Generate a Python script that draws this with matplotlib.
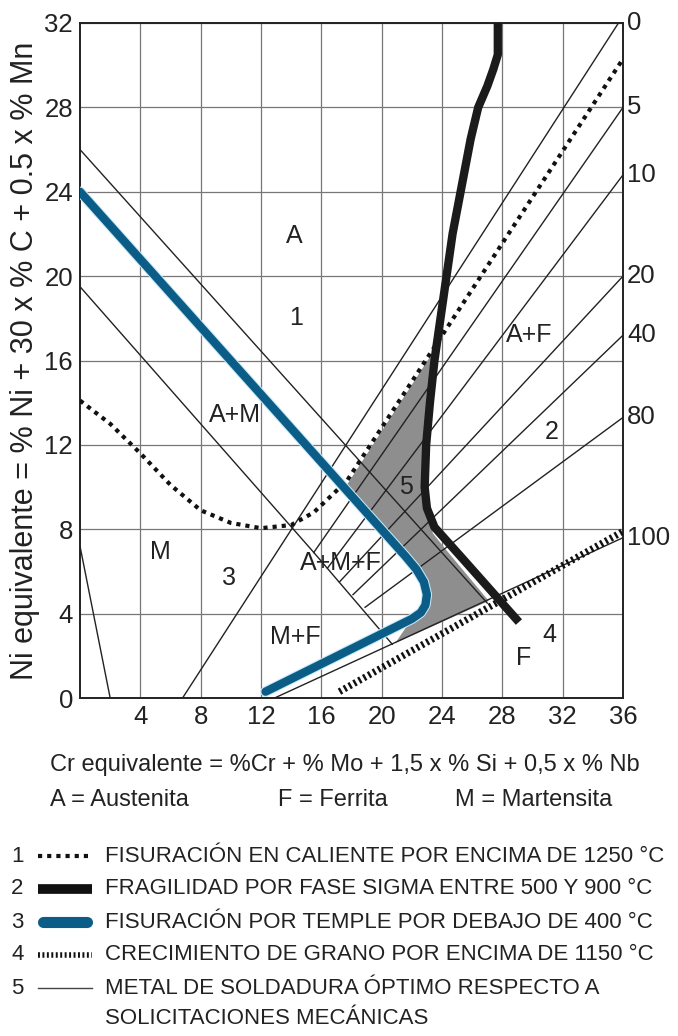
import matplotlib
matplotlib.use("Agg")
import matplotlib.pyplot as plt
from matplotlib.lines import Line2D

plt.rcParams['font.family'] = ['Liberation Sans', 'DejaVu Sans']

# ---- data (Cr equivalente, Ni equivalente) ----
# phase boundary lines
austenite_x = [0, 27.0]
austenite_y = [26.0, 4.5]
martensite_x = [0, 15.5]
martensite_y = [19.5, 6.9]
mleft_x = [0, 2.0]
mleft_y = [7.2, 0]
amf_x = [15.5, 20.7]
amf_y = [6.9, 2.55]

# ferrite % lines: start point and end point
ferrite_pct = [0, 5, 10, 20, 40, 80, 100]
ferrite_x0 = [6.8, 15.5, 16.4, 17.2, 18.1, 18.9, 12.9]
ferrite_y0 = [0.0, 6.9, 6.15, 5.5, 4.9, 4.3, 0.0]
ferrite_x1 = [35.7, 36, 36, 36, 36, 36, 36]
ferrite_y1 = [32.0, 28.0, 24.8, 20.0, 17.2, 13.3, 7.6]

# 1 - hot cracking (dotted)
hot_x = [0, 2, 4, 6, 8, 10, 12, 14, 15.5, 17.7, 36]
hot_y = [14.1, 13.0, 11.6, 10.1, 8.9, 8.3, 8.05, 8.2, 8.8, 10.3, 30.3]
# 2 - sigma phase embrittlement
sigma_x = [27.7, 27.7, 27.4, 27.0, 26.4, 25.9, 25.5, 25.1, 24.7, 24.3, 23.9,
           23.5, 23.2, 22.95, 22.85, 23.0, 23.5, 24.5, 25.5, 29.1]
sigma_y = [32.0, 30.5, 29.8, 29.0, 28.0, 26.5, 25.0, 23.5, 22.0, 20.0, 18.0,
           16.0, 14.0, 12.0, 10.0, 9.0, 8.1, 7.3, 6.5, 3.6]
# 3 - quench cracking
quench_x = [0, 21.6, 22.3, 22.8, 23.0, 22.9, 22.6, 22.0, 12.3]
quench_y = [24.0, 6.7, 6.1, 5.5, 4.9, 4.4, 4.05, 3.75, 0.3]
# 4 - grain growth
grain_x = [17.2, 36]
grain_y = [0.3, 7.9]
# 5 - optimum weld metal region
opt_x = [23.5, 17.6, 21.6, 22.3, 22.8, 23.0, 22.9, 22.6, 22.0, 20.9, 27.1,
         24.3, 23.4, 23.0, 22.9, 23.2, 23.5]
opt_y = [16.5, 10.0, 6.7, 6.1, 5.5, 4.9, 4.4, 4.05, 3.75, 2.6, 4.6,
         7.0, 7.8, 9.0, 12.0, 14.0, 16.5]

regions = ['A', '1', 'A+M', 'M', '3', 'A+M+F', 'M+F', '5', 'A+F', '2', '4', 'F']
region_x = [14.2, 14.3, 10.3, 5.3, 9.9, 17.3, 14.3, 21.6, 29.8, 31.3, 31.1, 29.4]
region_y = [21.9, 18.0, 13.4, 6.9, 5.7, 6.4, 2.9, 10.0, 17.2, 12.6, 3.0, 1.9]

legend_items = [
    'FISURACIÓN EN CALIENTE POR ENCIMA DE 1250 °C',
    'FRAGILIDAD POR FASE SIGMA ENTRE 500 Y 900 °C',
    'FISURACIÓN POR TEMPLE POR DEBAJO DE 400 °C',
    'CRECIMIENTO DE GRANO POR ENCIMA DE 1150 °C',
    'METAL DE SOLDADURA ÓPTIMO RESPECTO A',
]
legend_extra = 'SOLICITACIONES MECÁNICAS'

blue = '#0b5d87'
ink = '#222222'
W, H = 678, 1036
fig = plt.figure(figsize=(W / 100, H / 100), dpi=100)
ax = fig.add_axes([80 / W, 1 - 698 / H, 543 / W, 675 / H])
ax.set_xlim(0, 36)
ax.set_ylim(0, 32)
ax.set_xticks(range(4, 37, 4))
ax.set_yticks(range(0, 33, 4))
ax.tick_params(length=0, labelsize=18.5, colors=ink, pad=5)
ax.grid(True, color='#777777', lw=0.9)
for s in ax.spines.values():
    s.set_linewidth(1.4)
    s.set_color(ink)
ax.set_ylabel('Ni equivalente = % Ni + 30 x % C + 0.5 x % Mn', fontsize=22,
              color=ink, labelpad=3)

thin = dict(color=ink, lw=1.0, zorder=3)
ax.fill(opt_x, opt_y, color='#8e8e8e', lw=0, zorder=2)
ax.plot(austenite_x, austenite_y, **thin)
ax.plot(martensite_x, martensite_y, **thin)
ax.plot(mleft_x, mleft_y, **thin)
ax.plot(amf_x, amf_y, **thin)
for i in range(len(ferrite_pct)):
    ax.plot([ferrite_x0[i], ferrite_x1[i]], [ferrite_y0[i], ferrite_y1[i]], **thin)
    ax.annotate(str(ferrite_pct[i]), (36, ferrite_y1[i]), xytext=(3, 0),
                textcoords='offset points', va='center', ha='left',
                fontsize=18.5, color=ink, annotation_clip=False)

ax.plot(hot_x, hot_y, color='#111111', lw=3, dashes=(1, 1.2),
        dash_capstyle='butt', zorder=4)
ax.plot(grain_x, grain_y, color='#111111', lw=5, dashes=(0.35, 0.45),
        dash_capstyle='butt', zorder=4)
ax.plot(quench_x, quench_y, color='#c6e8f5', lw=7.5, solid_capstyle='round',
        solid_joinstyle='round', zorder=5)
ax.plot(quench_x, quench_y, color=blue, lw=6, solid_capstyle='round',
        solid_joinstyle='round', zorder=5)
ax.plot(sigma_x, sigma_y, color='#1b1b1b', lw=6, solid_joinstyle='round',
        solid_capstyle='butt', zorder=6)

for t, x, y in zip(regions, region_x, region_y):
    ax.text(x, y, t, fontsize=18, ha='center', va='center', color=ink,
            zorder=7)

# texts under the chart
fig.text(50 / W, 1 - 765 / H,
         'Cr equivalente = %Cr + % Mo + 1,5 x % Si + 0,5 x % Nb',
         fontsize=17, va='center', color=ink)
fig.text(50 / W, 1 - 800 / H, 'A = Austenita', fontsize=17, va='center', color=ink)
fig.text(278 / W, 1 - 800 / H, 'F = Ferrita', fontsize=17, va='center', color=ink)
fig.text(455 / W, 1 - 800 / H, 'M = Martensita', fontsize=17, va='center', color=ink)

row_y = [856, 889, 922, 955, 988]
for i, (yy, lab) in enumerate(zip(row_y, legend_items)):
    yf = 1 - yy / H
    fig.text(11 / W, yf, str(i + 1), fontsize=16, va='center', color=ink)
    fig.text(105 / W, yf, lab, fontsize=16, va='center', color=ink)
fig.text(105 / W, 1 - 1019 / H, legend_extra, fontsize=16, va='center', color=ink)

styles = [
    dict(color='#111111', lw=3, dashes=(1, 1.2), dash_capstyle='butt'),
    dict(color='#111111', lw=7, solid_capstyle='butt'),
    dict(color=blue, lw=8, solid_capstyle='round'),
    dict(color='#111111', lw=4, dashes=(0.35, 0.45), dash_capstyle='butt'),
    dict(color='#444444', lw=1.0),
]
for yy, st in zip(row_y, styles):
    yf = 1 - yy / H
    xs = [38 / W, 92 / W] if st.get('solid_capstyle') != 'round' else [43 / W, 87 / W]
    fig.add_artist(Line2D(xs, [yf, yf], transform=fig.transFigure, **st))

fig.savefig('out.png', dpi=100)
